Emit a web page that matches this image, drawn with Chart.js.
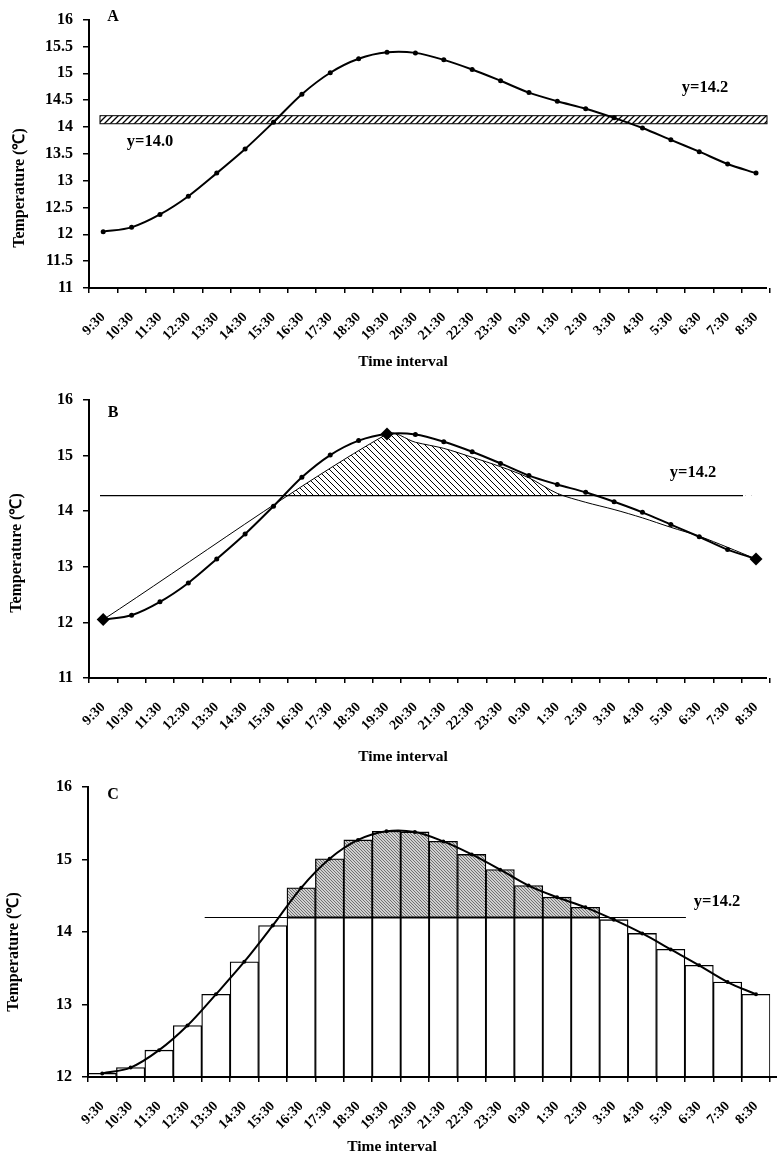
<!DOCTYPE html>
<html><head><meta charset="utf-8">
<script src="https://cdn.jsdelivr.net/npm/chart.js@4.4.1/dist/chart.umd.min.js"></script>
<style>
html,body{margin:0;padding:0;background:#fff;}
#wrap{position:relative;width:784px;height:1157px;overflow:hidden;}
canvas{position:absolute;left:0;}
</style></head><body>
<div id="wrap">
<canvas id="cA" width="784" height="380" style="top:0px"></canvas>
<canvas id="cB" width="784" height="385" style="top:380px"></canvas>
<canvas id="cC" width="784" height="392" style="top:765px"></canvas>
</div>
<script>
// ---------------- DATA ----------------
const timeLabels = ['9:30','10:30','11:30','12:30','13:30','14:30','15:30','16:30','17:30','18:30','19:30','20:30','21:30','22:30','23:30','0:30','1:30','2:30','3:30','4:30','5:30','6:30','7:30','8:30'];
const temperature = [12.05,12.13,12.37,12.71,13.14,13.59,14.09,14.61,15.01,15.27,15.39,15.38,15.25,15.07,14.86,14.64,14.48,14.34,14.17,13.98,13.76,13.54,13.31,13.14];
// Panel B: thin approximation line (straight rise from 9:30 to the 19:30 peak, then bowed decline)
const approxLineB = [12.05,null,null,null,null,null,null,null,null,null,15.39,15.24,15.13,14.97,14.80,14.60,14.32,14.16,14.03,13.88,13.71,13.55,13.35,13.14];
const diamondIdxB = [0,10,23];
const bandA = [14.06, 14.21];     // hatched band in panel A
const levelB = 14.28;             // threshold line in panel B
const levelC = 14.2;              // threshold in panel C
const labelA1 = 'y=14.0', labelA2 = 'y=14.2', labelB = 'y=14.2', labelC = 'y=14.2';
const yTitle = 'Temperature (\u2103)';
const xTitle = 'Time interval';

// ---------------- HELPERS ----------------
const FONT = 'Liberation Serif';
function hatch(dir, size, bg, fg, lw){
  const c = document.createElement('canvas'); c.width = size; c.height = size;
  const g = c.getContext('2d');
  if (bg){ g.fillStyle = bg; g.fillRect(0,0,size,size); }
  g.strokeStyle = fg; g.lineWidth = lw; g.beginPath();
  if (dir === '/'){
    g.moveTo(-1, size+1); g.lineTo(size+1, -1);
    g.moveTo(-1, 1); g.lineTo(1, -1);
    g.moveTo(size-1, size+1); g.lineTo(size+1, size-1);
  } else {
    g.moveTo(-1, -1); g.lineTo(size+1, size+1);
    g.moveTo(size-1, -1); g.lineTo(size+1, 1);
    g.moveTo(-1, size-1); g.lineTo(1, size+1);
  }
  g.stroke();
  return g.createPattern(c, 'repeat');
}
const patA = hatch('/', 6, '#fff', '#000', 1.3);
const patB = hatch('\\', 6, null, '#000', 1);
const patC = hatch('\\', 3, '#d0d0d0', '#666', 0.9);

function text(ctx, s, x, y, size, rot){
  ctx.save();
  ctx.font = 'bold ' + size + 'px "' + FONT + '"';
  ctx.fillStyle = '#000'; ctx.textAlign = 'center'; ctx.textBaseline = 'middle';
  ctx.translate(x, y); if (rot) ctx.rotate(rot);
  ctx.fillText(s, 0, 0); ctx.restore();
}

function makeOptions(cfg){
  return {
    responsive:false, animation:false, events:[],
    layout:{padding:{top:cfg.top, right:784-cfg.right, left:0, bottom:0}},
    plugins:{legend:{display:false}, tooltip:{enabled:false}},
    scales:{
      x:{type:'category', offset:true,
        grid:{offset:true, drawOnChartArea:false, drawTicks:true, tickLength:5, lineWidth:1.5,
              color: c => (cfg.hideLastTick && c.index === timeLabels.length) ? 'rgba(0,0,0,0)' : '#000'},
        border:{display:false},
        ticks:{autoSkip:false, maxRotation:45, minRotation:45, padding:cfg.xPad, color:'#000',
               font:{family:FONT, size:14, weight:'bold'}},
        afterFit: s => { s.height = cfg.h - cfg.bottom; }
      },
      y:{min:cfg.ymin, max:cfg.ymax,
        ticks:{stepSize:cfg.step, color:'#000', padding:10, font:{family:FONT, size:16, weight:'bold'},
               callback: v => String(Number(Number(v).toFixed(1)))},
        grid:{drawOnChartArea:false, drawTicks:true, tickLength:6, lineWidth:1.5, color:'#000'},
        border:{display:true, color:'#000', width:2},
        afterFit: s => { s.width = cfg.left; }
      }
    }
  };
}

function decorPlugin(cfg){
  return {
    id:'decor'+cfg.letter,
    beforeDatasetsDraw(chart){
      if (cfg.before) cfg.before(chart);
    },
    afterDraw(chart){
      const ctx = chart.ctx, a = chart.chartArea;
      ctx.save();
      ctx.strokeStyle = '#000'; ctx.lineWidth = 2;
      ctx.beginPath(); ctx.moveTo(a.left - 1, a.bottom); ctx.lineTo(cfg.axisEnd, a.bottom); ctx.stroke();
      ctx.restore();
      text(ctx, cfg.letter, cfg.letterPos[0], cfg.letterPos[1], 16);
      text(ctx, xTitle, cfg.xTitlePos[0], cfg.xTitlePos[1], 15.5);
      text(ctx, yTitle, cfg.yTitlePos[0], cfg.yTitlePos[1], 16, -Math.PI/2);
      (cfg.notes || []).forEach(n => text(ctx, n[0], n[1], n[2], 16.5));
    }
  };
}

// ---------------- PANEL A ----------------
const cfgA = {letter:'A', h:380, top:12, bottom:288, left:89, right:779, axisEnd:767, xPad:16, hideLastTick:true,
  ymin:11, ymax:16, step:0.5, letterPos:[113,17], xTitlePos:[403,362], yTitlePos:[20,188],
  notes:[[labelA1,150,142],[labelA2,705,88]],
  before(chart){
    const y = chart.scales.y, ctx = chart.ctx, a = chart.chartArea;
    const y1 = y.getPixelForValue(bandA[1]), y0 = y.getPixelForValue(bandA[0]);
    ctx.save();
    ctx.fillStyle = patA; ctx.fillRect(a.left + 11, y1, 767 - a.left - 11, y0 - y1);
    ctx.strokeStyle = '#000'; ctx.lineWidth = 1;
    ctx.strokeRect(a.left + 11, y1, 767 - a.left - 11, y0 - y1);
    ctx.restore();
  }};
new Chart(document.getElementById('cA'), {
  type:'line',
  data:{labels:timeLabels, datasets:[{data:temperature, borderColor:'#000', borderWidth:2, tension:0.3,
    pointRadius:2.5, pointBackgroundColor:'#000', pointBorderWidth:0, fill:false}]},
  options:makeOptions(cfgA),
  plugins:[decorPlugin(cfgA)]
});

// ---------------- PANEL B ----------------
const cfgB = {letter:'B', h:385, top:20, bottom:298, left:89, right:779, axisEnd:767, xPad:16, hideLastTick:true,
  ymin:11, ymax:16, step:1, letterPos:[113,33], xTitlePos:[403,377], yTitlePos:[17,173],
  notes:[[labelB,693,93]],
  before(chart){
    const y = chart.scales.y, ctx = chart.ctx, a = chart.chartArea;
    const py = y.getPixelForValue(levelB);
    ctx.save(); ctx.strokeStyle = '#000'; ctx.lineWidth = 1.2;
    ctx.beginPath(); ctx.moveTo(a.left + 11, py); ctx.lineTo(743, py); ctx.stroke(); ctx.restore();
  }};
new Chart(document.getElementById('cB'), {
  type:'line',
  data:{labels:timeLabels, datasets:[
    {data:temperature, borderColor:'#000', borderWidth:2, tension:0.3, order:0,
     pointRadius:2.5, pointBackgroundColor:'#000', pointBorderWidth:0, fill:false},
    {data:approxLineB, borderColor:'#000', borderWidth:1, tension:0.3, spanGaps:true, order:1,
     pointStyle:'rectRot', pointRadius: approxLineB.map((v,i)=> diamondIdxB.includes(i) ? 6.5 : 0),
     pointBackgroundColor:'#000', pointBorderColor:'#000', pointBorderWidth:0,
     fill:{target:{value:levelB}, above:patB, below:'rgba(0,0,0,0)'}}
  ]},
  options:makeOptions(cfgB),
  plugins:[decorPlugin(cfgB)]
});

// ---------------- PANEL C ----------------
const lowerC = temperature.map(v => Math.min(v, levelC));
const upperC = temperature.map(v => v > levelC ? [levelC, v] : null);
const cfgC = {letter:'C', h:392, top:22, bottom:312, left:88, right:777, axisEnd:777, xPad:16, hideLastTick:false,
  ymin:12, ymax:16, step:1, letterPos:[113,30], xTitlePos:[392,382], yTitlePos:[14,187],
  notes:[[labelC,717,137]],
  before(chart){},
};
const lineCPlugin = {
  id:'lineC',
  afterDatasetDraw(chart, args){
    if (args.index !== 1) return;
    const x = chart.scales.x, y = chart.scales.y, ctx = chart.ctx;
    const x0 = (x.getPixelForValue(3) + x.getPixelForValue(4)) / 2 + 3;
    const x1 = (x.getPixelForValue(20) + x.getPixelForValue(21)) / 2 + 1;
    const py = y.getPixelForValue(levelC);
    ctx.save(); ctx.strokeStyle = '#000'; ctx.lineWidth = 1.2;
    ctx.beginPath(); ctx.moveTo(x0, py); ctx.lineTo(x1, py); ctx.stroke(); ctx.restore();
  }
};
new Chart(document.getElementById('cC'), {
  type:'bar',
  data:{labels:timeLabels, datasets:[
    {type:'line', data:temperature, borderColor:'#000', borderWidth:2, tension:0.35, order:0,
     pointRadius:2, pointBackgroundColor:'#000', pointBorderWidth:0, fill:false},
    {data:lowerC, backgroundColor:'#fff', borderColor:'#000', borderWidth:1.3, borderSkipped:'start',
     categoryPercentage:1, barPercentage:1, grouped:false, order:2},
    {data:upperC, backgroundColor:patC, borderColor:'#000', borderWidth:1.3, borderSkipped:false,
     categoryPercentage:1, barPercentage:1, grouped:false, order:1}
  ]},
  options:makeOptions(cfgC),
  plugins:[decorPlugin(cfgC), lineCPlugin]
});
</script>
</body></html>
